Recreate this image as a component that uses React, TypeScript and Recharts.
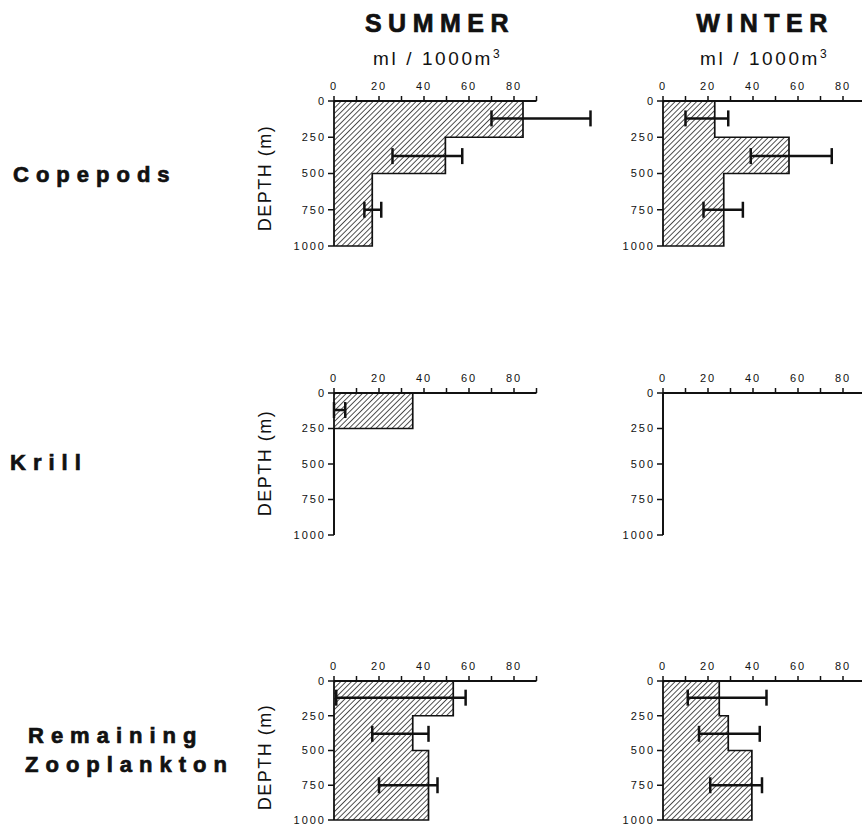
import React from 'react'
import { ComposedChart, Area, Scatter, ErrorBar, XAxis, YAxis, ReferenceLine } from 'recharts'

// depth strata (m): 0-250, 250-500, 500-1000
const stratumTops = [0, 250, 500]
const maxDepth = 1000
const errorDepths = [120, 380, 750]
const depthTicks = [0, 250, 500, 750, 1000]
const volumeTicks = [0, 10, 20, 30, 40, 50, 60, 70, 80, 90]

const seasons = ['SUMMER', 'WINTER']
const groups = ['Copepods', 'Krill', 'Remaining', 'Zooplankton']

// ml / 1000 m3 per stratum
const copepodsSummer = [84, 49.5, 17]
const copepodsWinter = [23, 56, 27]
const krillSummer = [35, 0, 0]
const krillWinter = [0, 0, 0]
const zooSummer = [53, 35, 42]
const zooWinter = [25, 29, 39.5]

// error bar ends [low, high]
const copepodsSummerErr = [[70, 114], [26, 57], [13.5, 21]]
const copepodsWinterErr = [[10, 29], [39, 75], [18, 35.5]]
const krillSummerErr = [[0, 5]]
const krillWinterErr: number[][] = []
const zooSummerErr = [[1, 58.5], [17, 42], [20, 46]]
const zooWinterErr = [[11, 46], [16, 43], [21, 44]]

const INK = '#111'
const FONT = '"Liberation Sans", Arial, sans-serif'
const Y_W = 60
const X_H = 30
const PLOT_W = 270

// outline of the step profile, closed at the surface and at 1000 m
function toSteps(vals: number[]) {
  const pts = [{ depth: 0, value: 0 }]
  stratumTops.forEach((d, i) => pts.push({ depth: d, value: vals[i] }))
  pts.push({ depth: maxDepth, value: vals[vals.length - 1] })
  pts.push({ depth: maxDepth, value: 0 })
  return pts
}

const tickStyle = { fill: INK, fontSize: 11, fontFamily: FONT, letterSpacing: 2 }

function Panel({ id, values, errors, left, top, plotH }: {
  id: string
  values: number[]
  errors: number[][]
  left: number
  top: number
  plotH: number
}) {
  const steps = toSteps(values)
  const errData = errors.map(([lo, hi], i) => ({
    depth: errorDepths[i],
    value: (lo + hi) / 2,
    err: (hi - lo) / 2,
  }))

  return (
    <div style={{ position: 'absolute', left: left - Y_W, top: top - X_H }}>
      <ComposedChart
        layout="vertical"
        width={Y_W + PLOT_W + 4}
        height={X_H + plotH + 10}
        data={steps}
        margin={{ top: 0, right: 4, bottom: 10, left: 0 }}
      >
        <defs>
          <pattern id={`hatch-${id}`} width="3.8" height="3.8" patternUnits="userSpaceOnUse" patternTransform="rotate(45)">
            <line x1="0" y1="0" x2="0" y2="3.8" stroke={INK} strokeWidth="1.45" />
          </pattern>
        </defs>
        <XAxis
          orientation="top"
          type="number"
          dataKey="value"
          domain={[0, 120]}
          ticks={volumeTicks}
          interval={0}
          height={X_H}
          axisLine={false}
          tickLine={{ stroke: INK, strokeWidth: 1.5 }}
          tickSize={5}
          tickMargin={6}
          tick={tickStyle}
          tickFormatter={(v: number) => (v % 20 === 0 && v < 90 ? String(v) : '')}
        />
        <YAxis
          type="number"
          dataKey="depth"
          domain={[0, maxDepth]}
          ticks={depthTicks}
          interval={0}
          width={Y_W}
          axisLine={{ stroke: INK, strokeWidth: 1.8 }}
          tickLine={{ stroke: INK, strokeWidth: 1.5 }}
          tickSize={6}
          tick={tickStyle}
        />
        <Area
          type="stepBefore"
          dataKey="value"
          stroke={INK}
          strokeWidth={1.7}
          fill={`url(#hatch-${id})`}
          fillOpacity={1}
          dot={false}
          activeDot={false}
          isAnimationActive={false}
        />
        <ReferenceLine segment={[{ x: 0, y: 0 }, { x: 90, y: 0 }]} stroke={INK} strokeWidth={1.8} />
        <Scatter data={errData} fill="none" isAnimationActive={false}>
          <ErrorBar dataKey="err" direction="x" width={8} stroke={INK} strokeWidth={2.5} isAnimationActive={false} />
        </Scatter>
      </ComposedChart>
    </div>
  )
}

const colX = [334, 663]
const rowY = [101, 393, 681]
const rowH = [145, 142, 139]

const heavy = { fontWeight: 'bold' as const, stroke: INK, strokeWidth: 0.7 }

export default function App() {
  return (
    <div style={{ position: 'absolute', left: 0, top: 0, width: 862, height: 826, overflow: 'hidden', background: '#fff', fontFamily: FONT }}>
      <svg width={862} height={826} style={{ position: 'absolute', left: 0, top: 0 }}>
        <g fill={INK} fontFamily={FONT}>
          <text x={440} y={32} textAnchor="middle" fontSize={25} letterSpacing={6.5} {...heavy}>{seasons[0]}</text>
          <text x={765} y={32} textAnchor="middle" fontSize={25} letterSpacing={6.5} {...heavy}>{seasons[1]}</text>
          {[373, 700].map((x) => (
            <text key={x} x={x} y={65} fontSize={19} letterSpacing={2.6}>
              ml / 1000m<tspan fontSize={12} dy={-7}>3</tspan>
            </text>
          ))}
          {[178, 463, 757].map((y) => (
            <text key={y} x={265} y={y} transform={`rotate(-90 265 ${y})`} textAnchor="middle" dominantBaseline="central" fontSize={18} letterSpacing={1.5}>
              DEPTH (m)
            </text>
          ))}
          <text x={13} y={182} fontSize={22} letterSpacing={7} {...heavy}>{groups[0]}</text>
          <text x={10} y={470} fontSize={22} letterSpacing={7} {...heavy}>{groups[1]}</text>
          <text x={28} y={743} fontSize={22} letterSpacing={7} {...heavy}>{groups[2]}</text>
          <text x={25} y={772} fontSize={22} letterSpacing={7} {...heavy}>{groups[3]}</text>
        </g>
      </svg>
      <Panel id="cs" values={copepodsSummer} errors={copepodsSummerErr} left={colX[0]} top={rowY[0]} plotH={rowH[0]} />
      <Panel id="cw" values={copepodsWinter} errors={copepodsWinterErr} left={colX[1]} top={rowY[0]} plotH={rowH[0]} />
      <Panel id="ks" values={krillSummer} errors={krillSummerErr} left={colX[0]} top={rowY[1]} plotH={rowH[1]} />
      <Panel id="kw" values={krillWinter} errors={krillWinterErr} left={colX[1]} top={rowY[1]} plotH={rowH[1]} />
      <Panel id="zs" values={zooSummer} errors={zooSummerErr} left={colX[0]} top={rowY[2]} plotH={rowH[2]} />
      <Panel id="zw" values={zooWinter} errors={zooWinterErr} left={colX[1]} top={rowY[2]} plotH={rowH[2]} />
    </div>
  )
}
